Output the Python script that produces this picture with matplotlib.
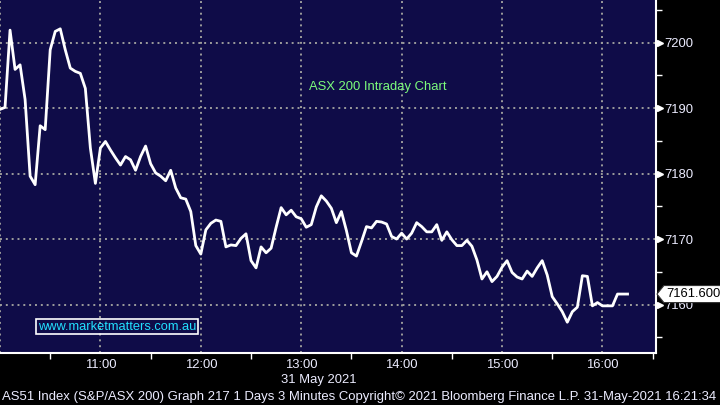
import pandas as pd
import matplotlib
matplotlib.use("Agg")
import matplotlib.pyplot as plt
import matplotlib.dates as mdates
from matplotlib.patches import Polygon
from matplotlib.transforms import blended_transform_factory

# ASX 200 (AS51) 3-minute closes, 31 May 2021, from 10:00
prices = [
    7189.8, 7190.1, 7201.9, 7195.9, 7196.6, 7191.3, 7179.6, 7178.3, 7187.3, 7186.7,
    7198.9, 7201.7, 7202.1, 7198.9, 7196.1, 7195.6, 7195.3, 7193.0, 7183.9, 7178.5,
    7183.9, 7184.9, 7183.6, 7182.4, 7181.3, 7182.6, 7182.1, 7180.5, 7182.6, 7184.2,
    7181.5, 7180.1, 7179.6, 7178.9, 7180.5, 7177.8, 7176.3, 7176.1, 7174.2, 7169.0,
    7167.7, 7171.4, 7172.4, 7172.9, 7172.7, 7168.8, 7169.1, 7169.0, 7170.1, 7170.8,
    7166.7, 7165.6, 7168.8, 7167.9, 7168.6, 7171.8, 7174.8, 7173.7, 7174.4, 7173.4,
    7173.1, 7171.8, 7172.2, 7174.9, 7176.6, 7175.8, 7174.7, 7172.5, 7174.2, 7171.3,
    7167.9, 7167.4, 7169.6, 7171.9, 7171.7, 7172.7, 7172.6, 7172.3, 7170.4, 7170.0,
    7170.9, 7170.0, 7170.9, 7172.5, 7171.9, 7171.1, 7171.1, 7172.2, 7169.8, 7171.1,
    7169.9, 7169.0, 7169.0, 7169.8, 7168.9, 7166.8, 7163.9, 7165.0, 7163.5, 7164.3,
    7165.7, 7166.7, 7164.9, 7164.2, 7163.9, 7165.1, 7164.3, 7165.6, 7166.7, 7164.5,
    7161.2, 7160.1, 7158.9, 7157.3, 7158.9, 7159.6, 7164.4, 7164.3, 7159.8, 7160.3,
    7159.8, 7159.8, 7159.8, 7161.6, 7161.6, 7161.6,
]
times = pd.date_range("2021-05-31 10:00", periods=len(prices), freq="3min")
last_price = 7161.600

title = "ASX 200 Intraday Chart"
watermark = "www.marketmatters.com.au"
date_label = "31 May 2021"
footer = ("AS51 Index (S&P/ASX 200) Graph 217 1 Days 3 Minutes "
          "Copyright\u00a9 2021 Bloomberg Finance L.P. 31-May-2021 16:21:34")

plt.rcParams["font.family"] = ["Liberation Sans", "DejaVu Sans"]
FS = 9.4
LABEL = "#ececff"

fig = plt.figure(figsize=(7.2, 4.05), dpi=100, facecolor="black")
ax = fig.add_axes([0, 52 / 405, 656 / 720, 353 / 405], facecolor="#0f0c48")

ax.plot(times, prices, color="white", lw=2, solid_joinstyle="round", zorder=3)

ax.set_xlim(pd.Timestamp("2021-05-31 10:00"), pd.Timestamp("2021-05-31 16:32"))
ax.set_ylim(7152.6, 7206.5)

# x axis: hour labels from 11:00, half-hour ticks
ax.xaxis.set_major_locator(mdates.HourLocator(byhour=range(11, 17)))
ax.xaxis.set_minor_locator(mdates.MinuteLocator(byminute=[30]))
ax.xaxis.set_major_formatter(mdates.DateFormatter("%H:%M"))
ax.tick_params(axis="x", which="major", length=0, pad=4, labelsize=FS, labelcolor=LABEL)
ax.tick_params(axis="x", which="minor", length=4, width=1, color="white", direction="out")

# y axis on the right
ax.yaxis.tick_right()
ax.set_yticks([7160, 7170, 7180, 7190, 7200])
ax.set_yticks([7155, 7165, 7175, 7185, 7195, 7205], minor=True)
ax.tick_params(axis="y", which="major", length=0, pad=6, labelsize=FS, labelcolor=LABEL)
ax.tick_params(axis="y", which="minor", length=4, width=1, color="white", direction="out")

ax.grid(True, which="major", color="#9c9c9c", ls=(0, (1, 2)), lw=1.4)
# the left edge carries a dotted line too (10:00)
ax.axvline(pd.Timestamp("2021-05-31 10:00"), color="#9c9c9c", ls=(0, (1, 2)), lw=1.4)

ax.spines["top"].set_visible(False)
ax.spines["left"].set_visible(False)
ax.spines["right"].set_color("white")
ax.spines["right"].set_linewidth(1.5)
ax.spines["bottom"].set_color("white")
ax.spines["bottom"].set_linewidth(1.5)

# small arrows in front of the price labels
trans = blended_transform_factory(ax.transAxes, ax.transData)
for v in ax.get_yticks():
    ax.plot([1.006], [v], marker=">", ms=5, color="white", transform=trans,
            clip_on=False, zorder=4)

# last price tag
h = 1.3
tag = Polygon([(1.0015, last_price), (1.012, last_price + h), (1.2, last_price + h),
               (1.2, last_price - h), (1.012, last_price - h)],
              closed=True, facecolor="white", edgecolor="#333333", lw=0.8,
              transform=trans, clip_on=False, zorder=5)
ax.add_patch(tag)
ax.text(1.015, last_price, f"{last_price:.3f}", transform=trans, color="black",
        fontsize=FS, va="center", ha="left", zorder=6, clip_on=False)

ax.text(0.576, 0.7535, title, transform=ax.transAxes, color="#7cfc7c",
        fontsize=FS, ha="center", va="center")
ax.text(38 / 656, 0.075, watermark, transform=ax.transAxes, color="#22e0ff",
        fontsize=9.25, ha="left", va="center",
        bbox=dict(facecolor="none", edgecolor="white", lw=1.2, pad=1.2))

fig.text(319 / 720, 1 - 380 / 405, date_label, color=LABEL, fontsize=FS,
         ha="center", va="center")
fig.text(2 / 720, 1 - 397 / 405, footer, color=LABEL, fontsize=9.45,
         ha="left", va="center")

fig.savefig("out.png", dpi=100, facecolor="black")
